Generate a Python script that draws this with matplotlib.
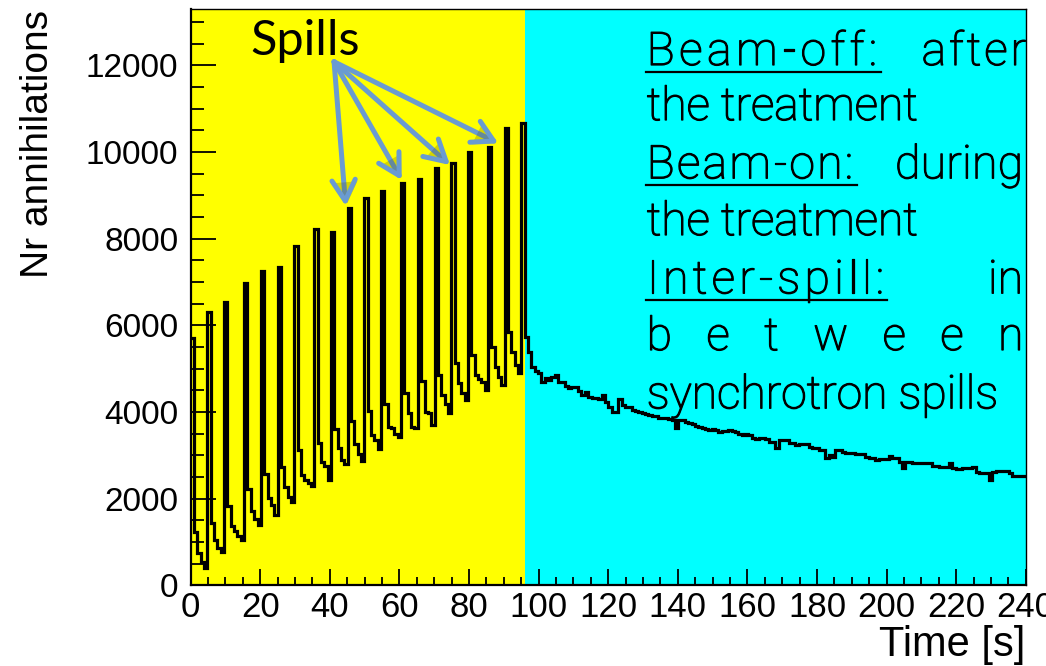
import numpy as np
import matplotlib
matplotlib.use("Agg")
import matplotlib.pyplot as plt
from matplotlib.ticker import MultipleLocator
from matplotlib.lines import Line2D
import matplotlib.patheffects as pe

# ---------------- data ----------------
# 250 bins of 0.96 s between 0 and 240 s
x_min, x_max, n_bins = 0.0, 240.0, 250
spill_end = 96.0  # end of beam-on period (s)

# bins 0..99 : beam-on (spills + inter-spill decay)
counts_beam_on = [
    5700, 1230, 750, 540, 410,
    6300, 1430, 1050, 860, 760,
    6545, 1840, 1370, 1255, 1150, 1050,
    6970, 2224, 1716, 1525, 1393,
    7260, 2563, 2010, 1855, 1624,
    7350, 2738, 2277, 2046, 1931,
    7840, 3124, 2547, 2420, 2355, 2293,
    8214, 3292, 2854, 2761, 2431,
    8146, 3601, 3163, 2893, 2800,
    8700, 3800, 3266, 3035, 2860,
    8937, 4030, 3470, 3354, 3140,
    9106, 4185, 3661, 3620, 3500, 3417,
    9277, 4446, 3970, 3661, 3620,
    9369, 4715, 4007, 3970, 3700,
    9630, 4854, 4393, 4185, 3970,
    9738, 5124, 4662, 4432, 4277,
    10005, 5315, 4854, 4750, 4699, 4508,
    10121, 5507, 5045, 4815, 4623,
    10545, 5853, 5391, 5085, 4893,
    10661,
]

# bins 100..249 : beam-off decay
counts_beam_off = [
    5740, 5390, 5045, 4950, 4890, 4700, 4780, 4740, 4815, 4850,
    4700, 4700, 4600, 4550, 4580, 4580, 4490, 4390, 4470, 4350,
    4320, 4320, 4300, 4390, 4240, 4120, 4010, 4010, 4300, 4160,
    4120, 4115, 4054, 4030, 3990, 3970, 3950, 3930, 3900, 3915,
    3870, 3855, 3860, 3840, 3815, 3624, 3815, 3815, 3780, 3750,
    3720, 3680, 3660, 3640, 3610, 3585, 3600, 3580, 3550, 3560,
    3570, 3580, 3565, 3530, 3500, 3470, 3490, 3470, 3400, 3380,
    3393, 3393, 3370, 3316, 3316, 3162, 3354, 3354, 3354, 3293,
    3293, 3239, 3270, 3270, 3270, 3200, 3162, 3162, 3123, 3123,
    2932, 3008, 2970, 3123, 3123, 3085, 3062, 3062, 3062, 3040,
    3040, 3040, 2970, 2932, 2932, 2893, 2920, 2920, 2920, 2985,
    2932, 2932, 2855, 2716, 2840, 2840, 2817, 2817, 2835, 2835,
    2835, 2817, 2755, 2755, 2740, 2740, 2740, 2817, 2701, 2680,
    2680, 2701, 2701, 2701, 2720, 2624, 2586, 2586, 2586, 2432,
    2624, 2650, 2650, 2650, 2650, 2600, 2520, 2520, 2520, 2520,
]

y_max = 13290
x_tick_labels = ["0", "20", "40", "60", "80", "100", "120", "140", "160", "180", "200", "220", "240"]
y_tick_labels = ["0", "2000", "4000", "6000", "8000", "10000", "12000"]

# arrows "Spills" -> selected spill peaks (data coords)
arrow_origin = (41.2, 12080)
arrow_tips = [(44.55, 8752), (60.65, 9352), (74.53, 9698), (88.42, 10198)]

# ---------------- figure ----------------
W, H = 1046, 666
plt.rcParams["font.family"] = ["Liberation Sans", "DejaVu Sans"]
fig = plt.figure(figsize=(W / 100, H / 100), dpi=100)


def fx(px):
    return px / W


def fy(py):
    return 1 - py / H


ax_l, ax_r, ax_t, ax_b = 190.7, 1025.7, 9.3, 585.4
ax = fig.add_axes([fx(ax_l), fy(ax_b), (ax_r - ax_l) / W, (ax_b - ax_t) / H])

edges = np.linspace(x_min, x_max, n_bins + 1)
counts = np.array(counts_beam_on + counts_beam_off, dtype=float)

ax.axvspan(x_min, spill_end, color="#ffff00", lw=0, zorder=0)
ax.axvspan(spill_end, x_max, color="#00ffff", lw=0, zorder=0)
ax.stairs(counts, edges, baseline=None, color="black", lw=2.3, zorder=3)

ax.set_xlim(x_min, x_max)
ax.set_ylim(0, y_max)

ax.set_xticks(np.arange(0, 241, 20))
ax.set_xticklabels(x_tick_labels)
ax.set_yticks(np.arange(0, 12001, 2000))
ax.set_yticklabels(y_tick_labels)
ax.xaxis.set_minor_locator(MultipleLocator(5))
ax.yaxis.set_minor_locator(MultipleLocator(500))

ax.tick_params(which="both", direction="in", top=False, right=False, colors="black")
ax.tick_params(axis="y", which="major", length=18, width=1.3, labelsize=24, pad=9)
ax.tick_params(axis="y", which="minor", length=9, width=1.3)
ax.tick_params(axis="x", which="major", length=11.5, width=1.3, labelsize=25, pad=4)
ax.tick_params(axis="x", which="minor", length=5.8, width=1.3)
for lbl in ax.get_xticklabels():
    lbl.set_fontfamily(["Liberation Sans Narrow", "Liberation Sans"])
    lbl.set_clip_on(False)

for side in ["left", "bottom"]:
    ax.spines[side].set_linewidth(1.6)
for side in ["top", "right"]:
    ax.spines[side].set_linewidth(1.0)

# axis titles
fig.text(fx(38), fy(10), "Nr annihilations", rotation=90, ha="center", va="top", fontsize=28)
fig.text(fx(1025), fy(656), "Time [s]", ha="right", va="baseline", fontsize=30)

# Spills annotation
fig.text(fx(250), fy(55), "Spills", ha="left", va="baseline", fontsize=35,
         family=["Lato", "DejaVu Sans"], zorder=5)
for tip in arrow_tips:
    ax.annotate("", xy=tip, xytext=arrow_origin, zorder=6,
                arrowprops=dict(arrowstyle="->,head_length=0.75,head_width=0.42",
                                color="#6a9bd1", lw=3.6, mutation_scale=20,
                                shrinkA=0, shrinkB=0,
                                path_effects=[pe.withSimplePatchShadow(offset=(1.5, -1.5),
                                                                      shadow_rgbFace="#555500",
                                                                      alpha=0.25)]))

# text box (beam-off / beam-on / inter-spill)
renderer = fig.canvas.get_renderer()
box_family = ["Roboto", "Liberation Sans", "DejaVu Sans"]
probe = fig.text(0, 0, "synchrotron spills", fontsize=33, family=box_family, weight="light")
probe_w = probe.get_window_extent(renderer).width
probe.remove()
box_size = 33 * 352.0 / probe_w
box_kw = dict(fontsize=box_size, family=box_family, weight="light", color="black",
              path_effects=[pe.withStroke(linewidth=0.9, foreground="black")])


def justified(s, x0, x1, ybase):
    ts, ws = [], []
    for ch in s:
        t = fig.text(0, fy(ybase), ch, ha="left", va="baseline", **box_kw)
        ts.append(t)
        ws.append(t.get_window_extent(renderer).width)
    gap = ((x1 - x0) - sum(ws)) / max(len(s) - 1, 1)
    x = x0
    for t, w in zip(ts, ws):
        t.set_x(fx(x))
        x += w + gap


def plain(s, x0, ybase):
    fig.text(fx(x0), fy(ybase), s, ha="left", va="baseline", **box_kw)


def underline(x0, x1, y):
    fig.add_artist(Line2D([fx(x0), fx(x1)], [fy(y), fy(y)], lw=1.6, color="black"))


left = 646.7
justified("Beam-off:", left, 877, 65)
underline(646, 880.7, 71.7)
justified("after", 921.7, 1026, 65)
plain("the treatment", left, 120)
justified("Beam-on:", left, 853, 178.3)
underline(646, 856.7, 185)
justified("during", 895, 1023, 178.3)
plain("the treatment", left, 235)
justified("Inter-spill:", left, 884, 293.3)
underline(646, 886.7, 300)
justified("in", 988, 1023, 293.3)
justified("between", left, 1023.3, 350)
plain("synchrotron spills", left, 408.3)

fig.savefig("out.png", dpi=100)
